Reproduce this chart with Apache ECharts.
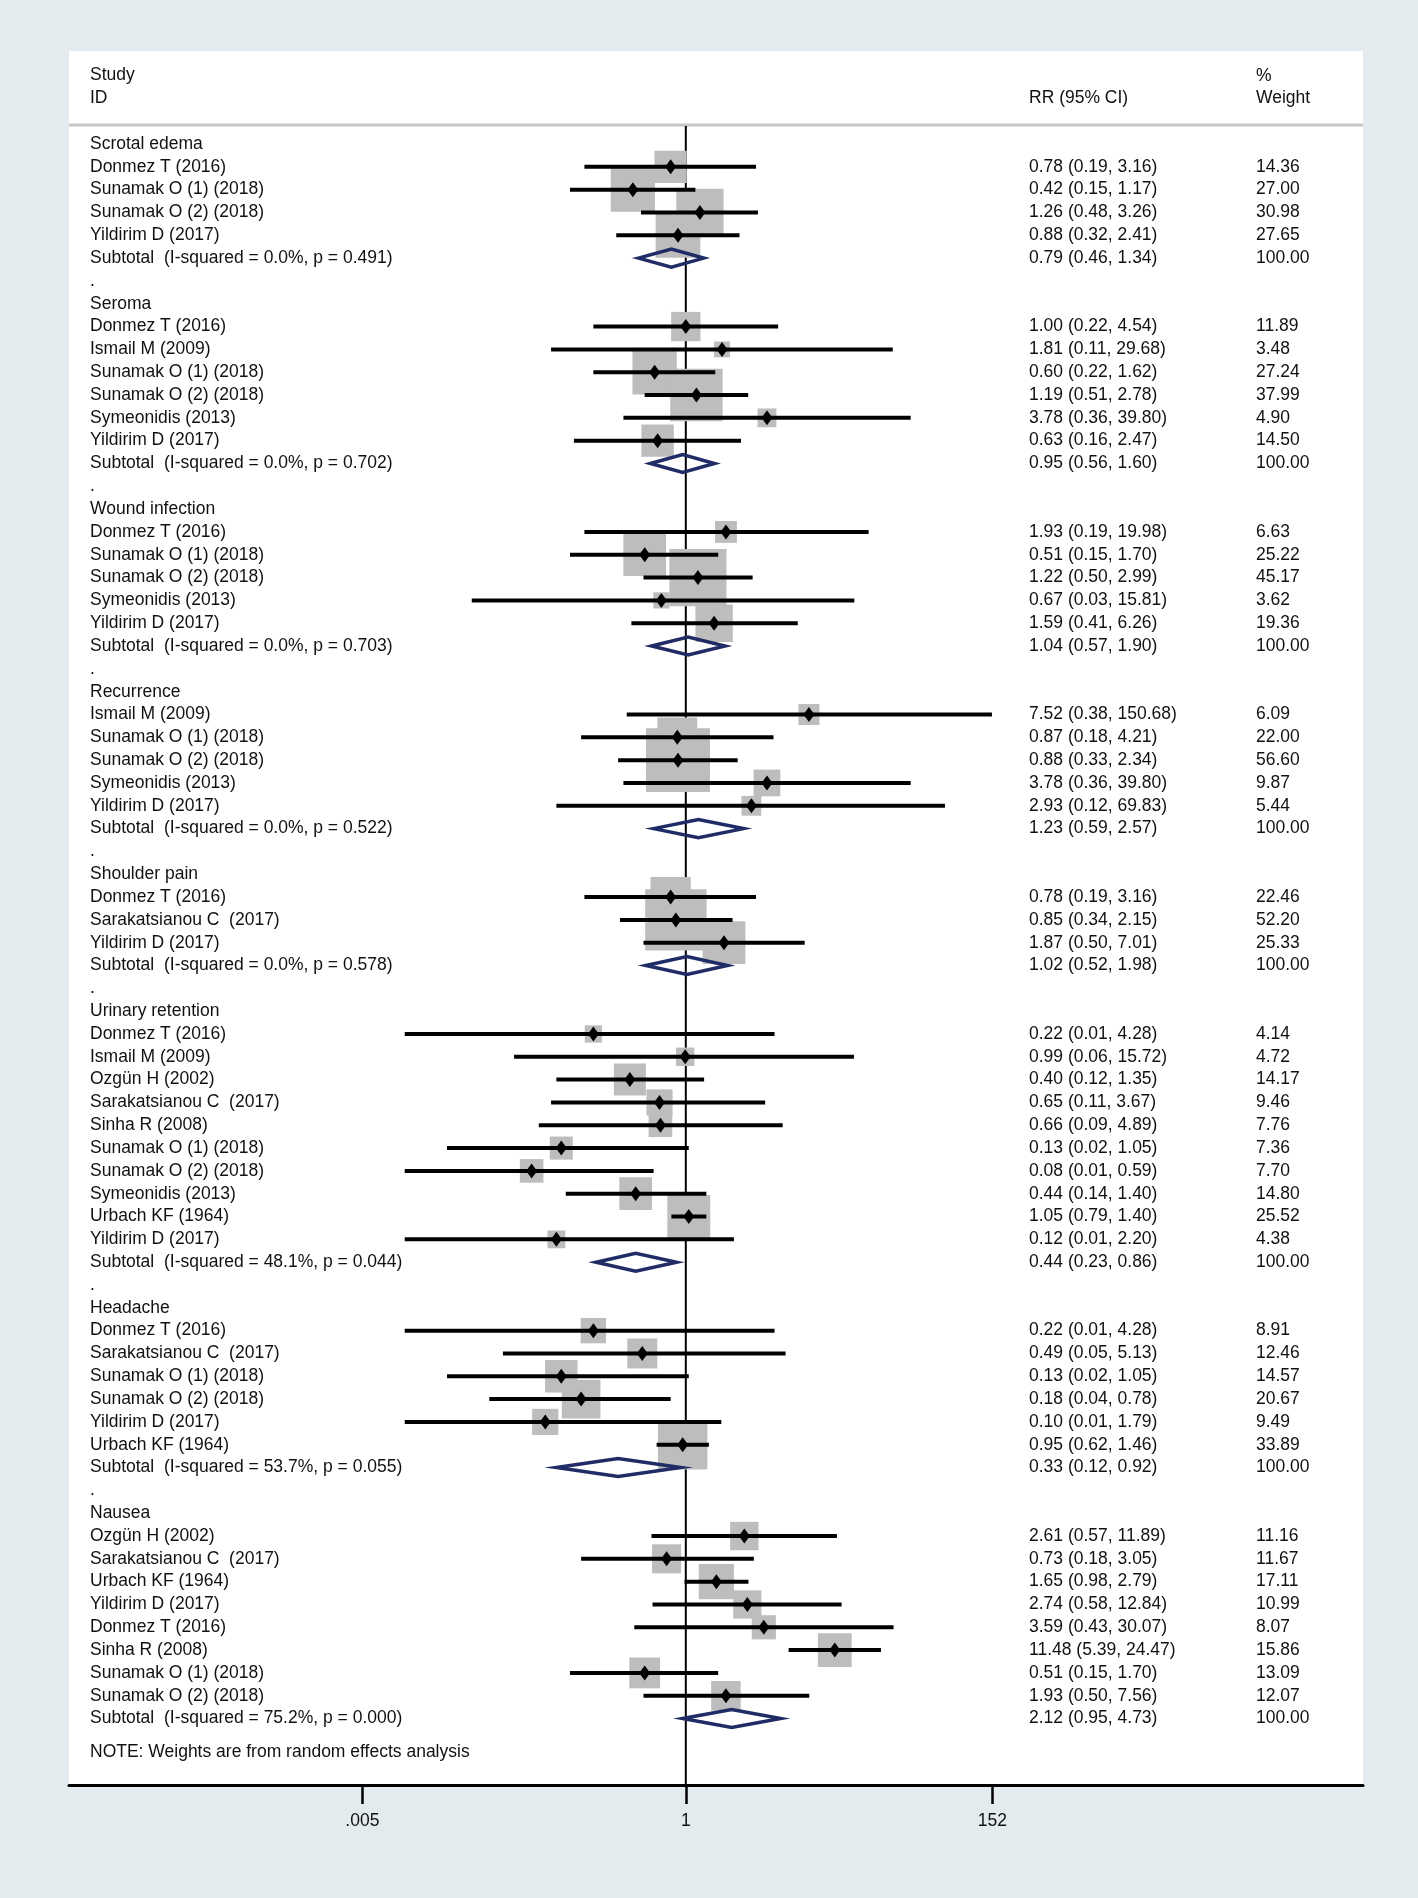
<!DOCTYPE html>
<html>
<head>
<meta charset="utf-8">
<script src="https://cdn.jsdelivr.net/npm/echarts@6/dist/echarts.min.js"></script>
<style>
  html, body { margin: 0; padding: 0; background: #E4EBEE; }
  #chart { width: 1418px; height: 1898px; }
</style>
</head>
<body>
<div id="chart"></div>
<script>
// ---------------- DATA ----------------
const groupNames = ['Scrotal edema', 'Seroma', 'Wound infection', 'Recurrence',
  'Shoulder pain', 'Urinary retention', 'Headache', 'Nausea'];

// [study, RR, lower 95% CI, upper 95% CI, % weight]
const scrotalEdema = [
  ['Donmez T (2016)', 0.78, 0.19, 3.16, 14.36],
  ['Sunamak O (1) (2018)', 0.42, 0.15, 1.17, 27.00],
  ['Sunamak O (2) (2018)', 1.26, 0.48, 3.26, 30.98],
  ['Yildirim D (2017)', 0.88, 0.32, 2.41, 27.65]
];
const seroma = [
  ['Donmez T (2016)', 1.00, 0.22, 4.54, 11.89],
  ['Ismail M (2009)', 1.81, 0.11, 29.68, 3.48],
  ['Sunamak O (1) (2018)', 0.60, 0.22, 1.62, 27.24],
  ['Sunamak O (2) (2018)', 1.19, 0.51, 2.78, 37.99],
  ['Symeonidis (2013)', 3.78, 0.36, 39.80, 4.90],
  ['Yildirim D (2017)', 0.63, 0.16, 2.47, 14.50]
];
const woundInfection = [
  ['Donmez T (2016)', 1.93, 0.19, 19.98, 6.63],
  ['Sunamak O (1) (2018)', 0.51, 0.15, 1.70, 25.22],
  ['Sunamak O (2) (2018)', 1.22, 0.50, 2.99, 45.17],
  ['Symeonidis (2013)', 0.67, 0.03, 15.81, 3.62],
  ['Yildirim D (2017)', 1.59, 0.41, 6.26, 19.36]
];
const recurrence = [
  ['Ismail M (2009)', 7.52, 0.38, 150.68, 6.09],
  ['Sunamak O (1) (2018)', 0.87, 0.18, 4.21, 22.00],
  ['Sunamak O (2) (2018)', 0.88, 0.33, 2.34, 56.60],
  ['Symeonidis (2013)', 3.78, 0.36, 39.80, 9.87],
  ['Yildirim D (2017)', 2.93, 0.12, 69.83, 5.44]
];
const shoulderPain = [
  ['Donmez T (2016)', 0.78, 0.19, 3.16, 22.46],
  ['Sarakatsianou C  (2017)', 0.85, 0.34, 2.15, 52.20],
  ['Yildirim D (2017)', 1.87, 0.50, 7.01, 25.33]
];
const urinaryRetention = [
  ['Donmez T (2016)', 0.22, 0.01, 4.28, 4.14],
  ['Ismail M (2009)', 0.99, 0.06, 15.72, 4.72],
  ['Ozgün H (2002)', 0.40, 0.12, 1.35, 14.17],
  ['Sarakatsianou C  (2017)', 0.65, 0.11, 3.67, 9.46],
  ['Sinha R (2008)', 0.66, 0.09, 4.89, 7.76],
  ['Sunamak O (1) (2018)', 0.13, 0.02, 1.05, 7.36],
  ['Sunamak O (2) (2018)', 0.08, 0.01, 0.59, 7.70],
  ['Symeonidis (2013)', 0.44, 0.14, 1.40, 14.80],
  ['Urbach KF (1964)', 1.05, 0.79, 1.40, 25.52],
  ['Yildirim D (2017)', 0.12, 0.01, 2.20, 4.38]
];
const headache = [
  ['Donmez T (2016)', 0.22, 0.01, 4.28, 8.91],
  ['Sarakatsianou C  (2017)', 0.49, 0.05, 5.13, 12.46],
  ['Sunamak O (1) (2018)', 0.13, 0.02, 1.05, 14.57],
  ['Sunamak O (2) (2018)', 0.18, 0.04, 0.78, 20.67],
  ['Yildirim D (2017)', 0.10, 0.01, 1.79, 9.49],
  ['Urbach KF (1964)', 0.95, 0.62, 1.46, 33.89]
];
const nausea = [
  ['Ozgün H (2002)', 2.61, 0.57, 11.89, 11.16],
  ['Sarakatsianou C  (2017)', 0.73, 0.18, 3.05, 11.67],
  ['Urbach KF (1964)', 1.65, 0.98, 2.79, 17.11],
  ['Yildirim D (2017)', 2.74, 0.58, 12.84, 10.99],
  ['Donmez T (2016)', 3.59, 0.43, 30.07, 8.07],
  ['Sinha R (2008)', 11.48, 5.39, 24.47, 15.86],
  ['Sunamak O (1) (2018)', 0.51, 0.15, 1.70, 13.09],
  ['Sunamak O (2) (2018)', 1.93, 0.50, 7.56, 12.07]
];

// subgroup pooled estimates
const subtotalRR = [0.79, 0.95, 1.04, 1.23, 1.02, 0.44, 0.33, 2.12];
const subtotalLo = [0.46, 0.56, 0.57, 0.59, 0.52, 0.23, 0.12, 0.95];
const subtotalHi = [1.34, 1.60, 1.90, 2.57, 1.98, 0.86, 0.92, 4.73];
const iSquared = [0.0, 0.0, 0.0, 0.0, 0.0, 48.1, 53.7, 75.2];
const pHet = [0.491, 0.702, 0.703, 0.522, 0.578, 0.044, 0.055, 0.000];

// x-axis ticks
const tickValues = [0.005, 1, 152];
const tickLabels = ['.005', '1', '152'];

// ---------------- BUILD ROWS ----------------
const groups = [scrotalEdema, seroma, woundInfection, recurrence, shoulderPain,
  urinaryRetention, headache, nausea];
const rows = [];
groups.forEach((g, gi) => {
  rows.push({ kind: 'header', label: groupNames[gi] });
  g.forEach(s => rows.push({ kind: 'study', label: s[0], rr: s[1], lo: s[2], hi: s[3], w: s[4] }));
  rows.push({
    kind: 'subtotal',
    label: 'Subtotal  (I-squared = ' + iSquared[gi].toFixed(1) + '%, p = ' + pHet[gi].toFixed(3) + ')',
    rr: subtotalRR[gi], lo: subtotalLo[gi], hi: subtotalHi[gi], w: 100
  });
  if (gi < groups.length - 1) rows.push({ kind: 'dot', label: '.' });
});
rows.forEach((r, i) => r.row = i);

// ---------------- LAYOUT ----------------
const FONT = '"Liberation Sans", Arial, Helvetica, sans-serif';
const FS = 17.5;
const TXT = '#111';
const GRID_LEFT = 69, GRID_RIGHT_PX = 1363, GRID_TOP = 126, GRID_BOTTOM_PX = 1785;
const X_ONE = 685.8, PX_PER_DECADE = 140.55;
const ROW0_Y = 144.0, ROW_H = 22.82;
const xMin = Math.pow(10, -(X_ONE - GRID_LEFT) / PX_PER_DECADE);
const xMax = Math.pow(10, (GRID_RIGHT_PX - X_ONE) / PX_PER_DECADE);
const yMin = -(ROW0_Y - GRID_TOP) / ROW_H;
const yMax = yMin + (GRID_BOTTOM_PX - GRID_TOP) / ROW_H;
const LABEL_X = 90, RR_X = 1029, W_X = 1256;

function fmtRR(r) {
  return r.rr.toFixed(2) + ' (' + r.lo.toFixed(2) + ', ' + r.hi.toFixed(2) + ')';
}
function txt(x, y, text) {
  return { type: 'text', style: { x: x, y: y, text: text, fill: TXT,
    font: FS + 'px ' + FONT, align: 'left', verticalAlign: 'middle' } };
}

const studyRows = rows.filter(r => r.kind === 'study');

const chart = echarts.init(document.getElementById('chart'), null, { renderer: 'canvas' });
chart.setOption({
  backgroundColor: '#E4EBEE',
  animation: false,
  grid: {
    left: GRID_LEFT, right: 1418 - GRID_RIGHT_PX, top: GRID_TOP, bottom: 1898 - GRID_BOTTOM_PX,
    show: true, backgroundColor: '#ffffff', borderWidth: 0
  },
  xAxis: {
    type: 'log', logBase: 10, min: xMin, max: xMax,
    splitLine: { show: false },
    minorTick: { show: false },
    axisLine: { onZero: false, lineStyle: { color: '#000', width: 3 } },
    axisTick: { customValues: tickValues, length: 19, lineStyle: { color: '#000', width: 2.5 } },
    axisLabel: {
      customValues: tickValues, margin: 27, fontSize: FS, fontFamily: FONT, color: TXT,
      formatter: v => {
        let best = 0, bd = Infinity;
        tickValues.forEach((t, i) => {
          const d = Math.abs(Math.log10(v) - Math.log10(t));
          if (d < bd) { bd = d; best = i; }
        });
        return tickLabels[best];
      }
    }
  },
  yAxis: {
    type: 'value', inverse: true, min: yMin, max: yMax, show: false,
    splitLine: { show: false }
  },
  graphic: {
    elements: [
      { type: 'rect', shape: { x: GRID_LEFT, y: 51, width: GRID_RIGHT_PX - GRID_LEFT, height: GRID_TOP - 51 },
        style: { fill: '#ffffff' }, silent: true },
      { type: 'line', shape: { x1: GRID_LEFT, y1: 125, x2: GRID_RIGHT_PX, y2: 125 },
        style: { stroke: '#C6C6C6', lineWidth: 3 }, silent: true },
      { type: 'text', style: { x: LABEL_X, y: 75, text: 'Study', fill: TXT, font: FS + 'px ' + FONT, verticalAlign: 'middle' } },
      { type: 'text', style: { x: LABEL_X, y: 98, text: 'ID', fill: TXT, font: FS + 'px ' + FONT, verticalAlign: 'middle' } },
      { type: 'text', style: { x: RR_X, y: 98, text: 'RR (95% CI)', fill: TXT, font: FS + 'px ' + FONT, verticalAlign: 'middle' } },
      { type: 'text', style: { x: W_X, y: 76, text: '%', fill: TXT, font: FS + 'px ' + FONT, verticalAlign: 'middle' } },
      { type: 'text', style: { x: W_X, y: 98, text: 'Weight', fill: TXT, font: FS + 'px ' + FONT, verticalAlign: 'middle' } },
      { type: 'text', style: { x: LABEL_X, y: 1752, text: 'NOTE: Weights are from random effects analysis', fill: TXT, font: FS + 'px ' + FONT, verticalAlign: 'middle' } }
    ]
  },
  series: [
    {
      // null reference line at RR = 1
      type: 'line', z: 2, silent: true, symbol: 'none',
      data: [[1, yMin], [1, yMax]],
      lineStyle: { color: '#000', width: 2 }
    },
    {
      // weight boxes
      type: 'custom', z: 3, silent: true,
      encode: { x: 0, y: 1 },
      data: studyRows.map(r => [r.rr, r.row, r.w]),
      renderItem: (params, api) => {
        const c = api.coord([api.value(0), api.value(1)]);
        const side = 8.5 * Math.sqrt(api.value(2));
        return { type: 'rect', shape: { x: c[0] - side / 2, y: c[1] - side / 2, width: side, height: side },
          style: { fill: '#BDBDBD' } };
      }
    },
    {
      // CI lines, point estimates, pooled diamonds and text columns
      type: 'custom', z: 4, silent: true,
      encode: { x: 0, y: 1 },
      data: rows.map(r => [r.rr || 1, r.row]),
      renderItem: (params, api) => {
        const r = rows[params.dataIndex];
        const y = api.coord([1, r.row])[1];
        const children = [txt(LABEL_X, y, r.label)];
        if (r.kind === 'study') {
          const p = api.coord([r.rr, r.row]);
          const l = api.coord([r.lo, r.row]);
          const h = api.coord([r.hi, r.row]);
          children.push({ type: 'line', shape: { x1: l[0], y1: y, x2: h[0], y2: y },
            style: { stroke: '#000', lineWidth: 4 } });
          children.push({ type: 'polygon', shape: { points: [[p[0], y - 7.5], [p[0] + 5.5, y], [p[0], y + 7.5], [p[0] - 5.5, y]] },
            style: { fill: '#000' } });
          children.push(txt(RR_X, y, fmtRR(r)));
          children.push(txt(W_X, y, r.w.toFixed(2)));
        } else if (r.kind === 'subtotal') {
          const p = api.coord([r.rr, r.row]);
          const l = api.coord([r.lo, r.row]);
          const h = api.coord([r.hi, r.row]);
          children.push({ type: 'polygon', shape: { points: [[l[0], y], [p[0], y - 9], [h[0], y], [p[0], y + 9]] },
            style: { fill: 'none', stroke: '#1F2C66', lineWidth: 3.5, lineJoin: 'miter' } });
          children.push(txt(RR_X, y, fmtRR(r)));
          children.push(txt(W_X, y, r.w.toFixed(2)));
        }
        return { type: 'group', children: children };
      }
    }
  ]
});
</script>
</body>
</html>
